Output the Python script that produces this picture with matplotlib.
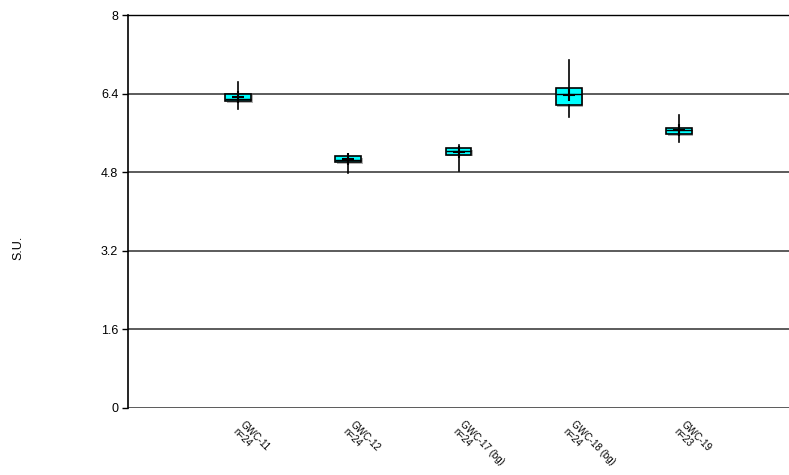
import matplotlib
matplotlib.use("Agg")
import matplotlib.pyplot as plt
import matplotlib.patheffects as pe

categories = ["GWC-11", "GWC-12", "GWC-17 (bg)", "GWC-18 (bg)", "GWC-19"]
counts = [24, 24, 24, 24, 23]
whisker_low = [6.08, 4.79, 4.83, 5.93, 5.41]
q1 = [6.25, 5.00, 5.16, 6.16, 5.57]
median = [6.30, 5.05, 5.24, 6.39, 5.66]
mean = [6.33, 5.07, 5.21, 6.37, 5.65]
q3 = [6.40, 5.12, 5.29, 6.51, 5.69]
whisker_high = [6.64, 5.18, 5.35, 7.08, 5.96]
y_ticks = [0, 1.6, 3.2, 4.8, 6.4, 8]

plt.rcParams['font.family'] = ['Liberation Sans', 'DejaVu Sans']

fig = plt.figure(figsize=(7.89, 4.75), dpi=100)
ax = fig.add_axes([128/789, 1-408/475, 1-128/789, (408-15)/475])

stats = []
for i, c in enumerate(categories):
    stats.append(dict(label=c, whislo=whisker_low[i], q1=q1[i], med=median[i],
                      q3=q3[i], whishi=whisker_high[i], mean=mean[i], fliers=[]))

positions = list(range(1, len(categories) + 1))
res = ax.bxp(stats, positions=positions, widths=0.236, patch_artist=True,
             showmeans=True, showcaps=False, showfliers=False,
             boxprops=dict(facecolor='#00FFFF', edgecolor='black', linewidth=1.2),
             medianprops=dict(color='black', linewidth=1.0),
             whiskerprops=dict(color='black', linewidth=1.2),
             meanprops=dict(marker='+', markeredgecolor='black', markersize=8,
                            markeredgewidth=1.5), zorder=3)
for b in res['boxes']:
    b.set_path_effects([pe.SimplePatchShadow(offset=(1.2, -1.2), shadow_rgbFace='gray', alpha=0.6), pe.Normal()])

ax.set_xlim(0, 6)
ax.set_ylim(0, 8)
ax.set_yticks(y_ticks)
ax.set_yticklabels(["0", "1.6", "3.2", "4.8", "6.4", "8"], fontsize=9)
ax.yaxis.grid(True, color='#404040', linewidth=1.2, zorder=1)
ax.set_axisbelow(True)
ax.tick_params(axis='y', direction='out', length=4, width=1, pad=3)

ax.set_xticks(positions)
ax.set_xticklabels([])
ax.tick_params(axis='x', length=0)
for p, c, n in zip(positions, categories, counts):
    ax.annotate(f"{c}\nn={n}", xy=(p, 0), xycoords='data', xytext=(5, -8),
                textcoords='offset points', rotation=-45, rotation_mode='anchor',
                ha='left', va='top', fontsize=7, linespacing=1.0)

for s in ['right', 'bottom']:
    ax.spines[s].set_visible(False)
ax.spines['top'].set_color('black')
ax.spines['top'].set_linewidth(1)
ax.spines['left'].set_linewidth(1.2)

fig.text(18/789, 1-248/475, "S.U.", rotation=90, ha='center', va='center', fontsize=9)

fig.savefig("out.png", dpi=100)
